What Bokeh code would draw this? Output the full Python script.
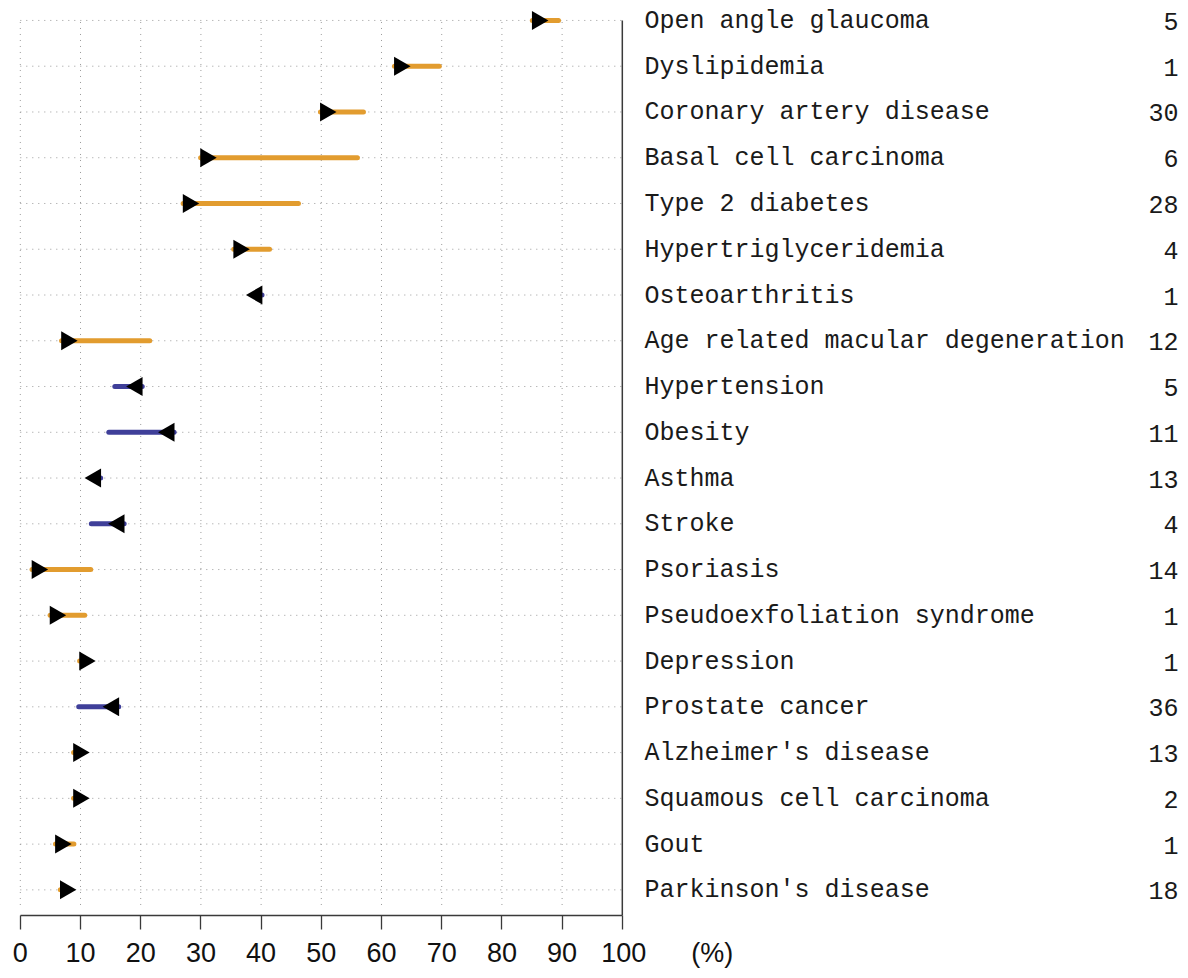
import math
from bokeh.plotting import figure
from bokeh.models import Range1d, FixedTicker, ColumnDataSource, AllLabels
from bokeh.core.properties import value
from bokeh.embed import file_html
from bokeh.resources import INLINE

# ---------------- data ----------------
conditions = ["Open angle glaucoma", "Dyslipidemia", "Coronary artery disease",
              "Basal cell carcinoma", "Type 2 diabetes", "Hypertriglyceridemia",
              "Osteoarthritis", "Age related macular degeneration", "Hypertension",
              "Obesity", "Asthma", "Stroke", "Psoriasis", "Pseudoexfoliation syndrome",
              "Depression", "Prostate cancer", "Alzheimer's disease",
              "Squamous cell carcinoma", "Gout", "Parkinson's disease"]
counts = [5, 1, 30, 6, 28, 4, 1, 12, 5, 11, 13, 4, 14, 1, 1, 36, 13, 2, 1, 18]
marker_pct = [85.9, 63.0, 50.7, 30.8, 27.9, 36.3, 39.3, 7.7, 19.4, 24.7,
              12.5, 16.4, 2.8, 5.8, 10.7, 15.5, 9.7, 9.7, 6.7, 7.5]
end_pct = [89.4, 69.6, 57.0, 56.0, 46.2, 41.4, 39.3, 21.5, 15.7, 14.7,
           12.5, 11.8, 11.7, 10.7, 10.7, 9.7, 9.7, 9.7, 8.9, 7.5]
direction = ["up"] * 6 + ["down"] + ["up"] + ["down"] * 4 + ["up"] * 3 + ["down"] + ["up"] * 4
x_ticks = [0, 10, 20, 30, 40, 50, 60, 70, 80, 90, 100]
x_unit_label = "(%)"

# ---------------- styling ----------------
ORANGE = "#E29C2F"
BLUE = "#3F3F99"
GRID = "#9a9a9a"
AXIS = "#3a3a3a"
BASE_OFFSET = 0.85
NBSP = "\u00a0"

n = len(conditions)
ys = [n - i for i in range(n)]
sign = [1 if d == "up" else -1 for d in direction]
colors = [ORANGE if d == "up" else BLUE for d in direction]
angles = [-math.pi / 2 if d == "up" else math.pi / 2 for d in direction]
seg_start = [m - s * BASE_OFFSET for m, s in zip(marker_pct, sign)]

src = ColumnDataSource(dict(y=ys, cond=conditions, cnt=[str(c) for c in counts],
                            m=marker_pct, e=end_pct, s0=seg_start,
                            color=colors, angle=angles))

p = figure(width=1180, height=970,
           x_range=Range1d(-3.29, 192.72), y_range=Range1d(0.44, 20.436),
           output_backend="svg", toolbar_location=None,
           min_border_left=0, min_border_right=0, min_border_top=0, min_border_bottom=52,
           y_axis_location=None)
p.outline_line_color = None
p.xgrid.visible = False
p.ygrid.visible = False
p.background_fill_color = "white"

# dotted grid
gx = x_ticks[:-1]
p.segment(x0=gx, y0=[0.67] * len(gx), x1=gx, y1=[n] * len(gx),
          line_color=GRID, line_width=1, line_dash="1 5")
p.segment(x0=[0] * n, y0=ys, x1=[100] * n, y1=ys,
          line_color=GRID, line_width=1, line_dash="1 5")

# right boundary line
p.segment(x0=[100], y0=[0.44], x1=[100], y1=[n], line_color=AXIS, line_width=1.5)

# bars and markers
p.segment(x0="s0", y0="y", x1="e", y1="y", source=src, line_color="color",
          line_width=5, line_cap="round")
p.scatter(x="m", y="y", source=src, marker="triangle", size=19, angle="angle",
          fill_color="black", line_color=None)

# labels
p.text(x=[103.7] * n, y=ys, text=conditions, text_font=value("Liberation Mono"),
       text_font_size="25px", text_baseline="middle", text_align="left",
       text_color="#1a1a1a", y_offset=1)
p.text(x=[192.4] * n, y=ys, text=[str(c) for c in counts], text_font=value("Liberation Mono"),
       text_font_size="25px", text_baseline="middle", text_align="right",
       text_color="#1a1a1a", y_offset=1)

# x axis
ax = p.xaxis[0]
ax.ticker = FixedTicker(ticks=x_ticks)
ax.bounds = (0, 100)
ax.minor_tick_line_color = None
ax.major_tick_in = 0
ax.major_tick_out = 14
ax.major_tick_line_color = AXIS
ax.major_tick_line_width = 1.3
ax.axis_line_color = AXIS
ax.axis_line_width = 1.3
ax.major_label_text_font = "Liberation Sans"
ax.major_label_text_font_size = "27px"
ax.major_label_text_color = "#111111"
ax.major_label_standoff = 8
ax.major_label_policy = AllLabels()
last = x_ticks[-1]
ax.major_label_overrides = {last: NBSP * 12 + str(last) + NBSP * 6 + x_unit_label}

open("out.html", "w").write(file_html(p, INLINE))
